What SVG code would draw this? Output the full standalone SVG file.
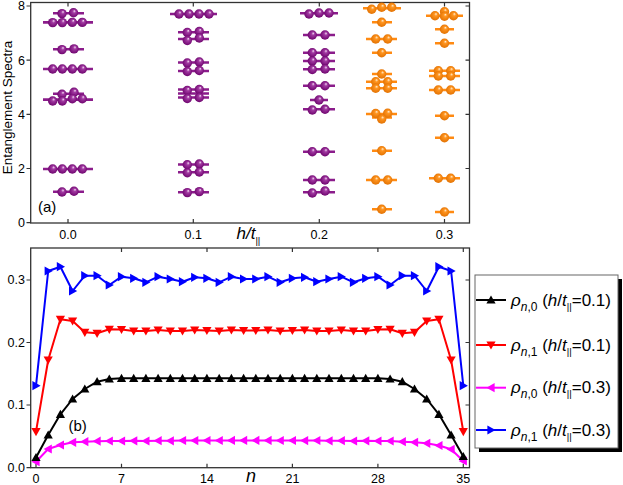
<svg xmlns="http://www.w3.org/2000/svg" xmlns:xlink="http://www.w3.org/1999/xlink" width="623" height="485" viewBox="0 0 623 485">
<style>
text{font-family:"Liberation Sans",Arial,sans-serif;fill:#000}
.tk{font-size:12.5px}
.i{font-style:italic}
.fr{fill:none;stroke:#333;stroke-width:1.3}
.tick{stroke:#333;stroke-width:1.2}
.lp{stroke:#8b1c8b;stroke-width:2.6}
.lo{stroke:#ff8a12;stroke-width:2.6}
.s{fill:none;stroke-width:2;stroke-linejoin:round}
.lg{font-size:17px}
.sb{font-size:12px}
.ss{font-size:9.5px}
</style>
<defs>
<radialGradient id="gp" cx="0.5" cy="0.5" r="0.55" fx="0.62" fy="0.3">
<stop offset="0" stop-color="#f4e0f4"/><stop offset="0.3" stop-color="#a23aa2"/><stop offset="1" stop-color="#6a006a"/>
</radialGradient>
<radialGradient id="go" cx="0.5" cy="0.5" r="0.55" fx="0.62" fy="0.3">
<stop offset="0" stop-color="#fff0d8"/><stop offset="0.3" stop-color="#ff9520"/><stop offset="1" stop-color="#e06f00"/>
</radialGradient>
<circle id="pb" r="4.7" fill="url(#gp)"/>
<circle id="ob" r="4.7" fill="url(#go)"/>
<marker id="mk" viewBox="-6 -6 12 12" markerWidth="12" markerHeight="12" markerUnits="userSpaceOnUse" orient="0" overflow="visible"><path d="M0,-4.6 L4.6,3.6 L-4.6,3.6 Z" fill="#000"/></marker>
<marker id="mr" viewBox="-6 -6 12 12" markerWidth="12" markerHeight="12" markerUnits="userSpaceOnUse" orient="0" overflow="visible"><path d="M0,4.6 L4.6,-3.6 L-4.6,-3.6 Z" fill="#f00"/></marker>
<marker id="mm" viewBox="-6 -6 12 12" markerWidth="12" markerHeight="12" markerUnits="userSpaceOnUse" orient="0" overflow="visible"><path d="M-4.6,0 L3.6,-4.6 L3.6,4.6 Z" fill="#f0f"/></marker>
<marker id="mb" viewBox="-6 -6 12 12" markerWidth="12" markerHeight="12" markerUnits="userSpaceOnUse" orient="0" overflow="visible"><path d="M4.6,0 L-3.6,-4.6 L-3.6,4.6 Z" fill="#00f"/></marker>
</defs>

<!-- Panel (a) axes -->
<g id="axes-a">
<rect class="fr" x="30.7" y="2.5" width="438.8" height="220.5"/>
<path class="tick" d="M26.5,6H30.7M26.5,60.2H30.7M26.5,114.3H30.7M26.5,168.5H30.7M26.5,222.7H30.7
M469.5,6H465.5M469.5,60.2H465.5M469.5,114.3H465.5M469.5,168.5H465.5
M68,2.5V6.5M193.3,2.5V6.5M319.3,2.5V6.5M444.5,2.5V6.5
M68,223V219M193.3,223V219M319.3,223V219M444.5,223V219"/>
<text class="tk" text-anchor="end" x="25" y="10.3">8</text>
<text class="tk" text-anchor="end" x="25" y="64.5">6</text>
<text class="tk" text-anchor="end" x="25" y="118.6">4</text>
<text class="tk" text-anchor="end" x="25" y="172.8">2</text>
<text class="tk" text-anchor="end" x="25" y="227">0</text>
<text class="tk" text-anchor="middle" x="68" y="239">0.0</text>
<text class="tk" text-anchor="middle" x="193.3" y="239">0.1</text>
<text class="tk" text-anchor="middle" x="319.3" y="239">0.2</text>
<text class="tk" text-anchor="middle" x="444.5" y="239">0.3</text>
<text x="236.5" y="238.5" font-size="17" class="i">h/t<tspan class="ss" font-style="normal" dy="5">||</tspan></text>
<text transform="translate(11.5,107.5) rotate(-90)" text-anchor="middle" font-size="13.5">Entanglement Spectra</text>
<text x="38" y="212" font-size="15">(a)</text>
</g>

<!-- h/t = 0.0 -->
<g id="col-00">
<path class="lp" d="M53,13.3H84M43,22.4H93M53,49.3H84M43,69H93M53,93.8H84M43,99.6H93M43,169H93M53,191.7H84"/>
<use href="#pb" x="62" y="13.6"/><use href="#pb" x="73.5" y="12.8"/>
<use href="#pb" x="52.7" y="22.6"/><use href="#pb" x="62.3" y="22.6"/><use href="#pb" x="72.3" y="22.4"/><use href="#pb" x="82.3" y="22.4"/>
<use href="#pb" x="62" y="49.6"/><use href="#pb" x="74" y="48.9"/>
<use href="#pb" x="52.7" y="69"/><use href="#pb" x="62.3" y="69"/><use href="#pb" x="72.3" y="69"/><use href="#pb" x="82.3" y="69"/>
<use href="#pb" x="62" y="94.3"/><use href="#pb" x="74" y="92.3"/>
<use href="#pb" x="52.7" y="101"/><use href="#pb" x="62.3" y="101"/><use href="#pb" x="72.3" y="98.7"/><use href="#pb" x="82.3" y="98.7"/>
<use href="#pb" x="52.7" y="169"/><use href="#pb" x="62.3" y="169"/><use href="#pb" x="72.3" y="169"/><use href="#pb" x="82.3" y="169"/>
<use href="#pb" x="62" y="192"/><use href="#pb" x="74" y="191.3"/>
</g>

<!-- h/t = 0.1 -->
<g id="col-01">
<path class="lp" d="M170,14H217M178,32.3H209M178,39H209M178,62.5H209M178,71H209M178,89.5H209M178,93.5H209M178,97.5H209M178,164.5H209M178,172.3H209M178,192.3H209"/>
<use href="#pb" x="179" y="14"/><use href="#pb" x="189" y="14"/><use href="#pb" x="199" y="14"/><use href="#pb" x="209" y="14"/>
<use href="#pb" x="187.3" y="32.5"/><use href="#pb" x="199.3" y="31.5"/>
<use href="#pb" x="187.3" y="40.5"/><use href="#pb" x="199.3" y="38"/>
<use href="#pb" x="187.3" y="63"/><use href="#pb" x="199.3" y="62"/>
<use href="#pb" x="187.3" y="71.5"/><use href="#pb" x="199.3" y="70.5"/>
<use href="#pb" x="187.3" y="90.5"/><use href="#pb" x="199.3" y="89.5"/>
<use href="#pb" x="187.3" y="98.5"/><use href="#pb" x="199.3" y="97.5"/>
<use href="#pb" x="187.3" y="164.8"/><use href="#pb" x="199.3" y="164"/>
<use href="#pb" x="187.3" y="172.8"/><use href="#pb" x="199.3" y="172"/>
<use href="#pb" x="187.3" y="192.6"/><use href="#pb" x="199.3" y="191.6"/>
</g>

<!-- h/t = 0.2 -->
<g id="col-02">
<path class="lp" d="M300,13.3H338M303,35H335M303,52.7H335M303,61H335M303,69.3H335M303,85.7H335M310,100H328M303,109.3H335M303,151.7H335M303,180H335M303,192.3H335"/>
<use href="#pb" x="309" y="14"/><use href="#pb" x="319" y="13"/><use href="#pb" x="329" y="13"/>
<use href="#pb" x="312.3" y="35"/><use href="#pb" x="325" y="35"/>
<use href="#pb" x="312.3" y="52.7"/><use href="#pb" x="325" y="52.7"/>
<use href="#pb" x="312.3" y="61"/><use href="#pb" x="325" y="61"/>
<use href="#pb" x="312.3" y="69.5"/><use href="#pb" x="325" y="69"/>
<use href="#pb" x="312.3" y="85.7"/><use href="#pb" x="325" y="85.7"/>
<use href="#pb" x="319" y="100"/>
<use href="#pb" x="312.3" y="110"/><use href="#pb" x="325" y="109.3"/>
<use href="#pb" x="312.3" y="151.7"/><use href="#pb" x="325" y="151.7"/>
<use href="#pb" x="312.3" y="180"/><use href="#pb" x="325" y="180"/>
<use href="#pb" x="312.3" y="193"/><use href="#pb" x="325" y="191"/>
</g>

<!-- h/t = 0.25 -->
<g id="col-025">
<path class="lo" d="M363,8.3H401M372,22.3H392M366,39H397M372,52.7H392M372,74H392M366,81.7H397M366,88.3H397M366,114H397M372,117.5H392M372,150.7H392M366,180H397M372,209.3H392"/>
<use href="#ob" x="371.7" y="9.3"/><use href="#ob" x="381.7" y="7.3"/><use href="#ob" x="391.7" y="7.3"/>
<use href="#ob" x="381.7" y="22.3"/>
<use href="#ob" x="375.7" y="39"/><use href="#ob" x="387.7" y="39"/>
<use href="#ob" x="381.7" y="52.7"/>
<use href="#ob" x="381.7" y="74"/>
<use href="#ob" x="375.7" y="81.7"/><use href="#ob" x="387.7" y="81.7"/>
<use href="#ob" x="375.7" y="88.3"/><use href="#ob" x="387.7" y="88.3"/>
<use href="#ob" x="375.7" y="113.5"/><use href="#ob" x="387.7" y="113.3"/>
<use href="#ob" x="381.7" y="119"/>
<use href="#ob" x="381.7" y="150.7"/>
<use href="#ob" x="375.7" y="180"/><use href="#ob" x="387.7" y="180"/>
<use href="#ob" x="381.7" y="209.3"/>
</g>

<!-- h/t = 0.3 -->
<g id="col-03">
<path class="lo" d="M426,15.7H463M435,29.3H454M435,43.3H454M429,70.7H460M429,76H460M429,90H460M435,115.7H454M435,137.7H454M429,178.3H460M435,212H454"/>
<use href="#ob" x="435" y="15.7"/><use href="#ob" x="444.5" y="11.7"/><use href="#ob" x="444.5" y="16.3"/><use href="#ob" x="453.5" y="15.7"/>
<use href="#ob" x="444.5" y="29.3"/>
<use href="#ob" x="444.5" y="43.3"/>
<use href="#ob" x="438.3" y="70.7"/><use href="#ob" x="450.7" y="70.7"/>
<use href="#ob" x="438.3" y="76"/><use href="#ob" x="450.7" y="76"/>
<use href="#ob" x="438.3" y="90"/><use href="#ob" x="450.7" y="90"/>
<use href="#ob" x="444.5" y="115.7"/>
<use href="#ob" x="444.5" y="137.7"/>
<use href="#ob" x="438.3" y="178.3"/><use href="#ob" x="450.7" y="178.3"/>
<use href="#ob" x="444.5" y="212"/>
</g>

<!-- Panel (b) axes -->
<g id="axes-b">
<rect class="fr" x="30.7" y="248" width="438.8" height="219.7"/>
<path class="tick" d="M26.5,467.7H30.7M26.5,405H30.7M26.5,342.5H30.7M26.5,280H30.7
M469.5,405H465.5M469.5,342.5H465.5M469.5,280H465.5
M121.5,248V252M207,248V252M292.4,248V252M377.9,248V252M463.3,248V252
M36,467.7V463.7M121.5,467.7V463.7M207,467.7V463.7M292.4,467.7V463.7M377.9,467.7V463.7M463.3,467.7V463.7"/>
<text class="tk" text-anchor="end" x="25" y="472">0.0</text>
<text class="tk" text-anchor="end" x="25" y="409.3">0.1</text>
<text class="tk" text-anchor="end" x="25" y="346.8">0.2</text>
<text class="tk" text-anchor="end" x="25" y="284.3">0.3</text>
<text class="tk" text-anchor="middle" x="36" y="483">0</text>
<text class="tk" text-anchor="middle" x="121.5" y="483">7</text>
<text class="tk" text-anchor="middle" x="207" y="483">14</text>
<text class="tk" text-anchor="middle" x="292.4" y="483">21</text>
<text class="tk" text-anchor="middle" x="377.9" y="483">28</text>
<text class="tk" text-anchor="middle" x="463.3" y="483">35</text>
<text x="251" y="482" font-size="18" class="i" text-anchor="middle">n</text>
<text x="68.5" y="430.5" font-size="15">(b)</text>
</g>

<!-- series -->
<g id="connectors">
<polyline class="s" stroke="#f0f" marker-start="url(#mm)" marker-mid="url(#mm)" marker-end="url(#mm)" points="36,461.7 48.2,449 60.4,445 72.6,442.3 84.8,441.7 97.1,441.2 109.3,441 121.5,441 133.7,440.8 145.9,441 158.1,440.7 170.3,440.8 182.5,440.5 194.7,440.6 206.9,440.5 219.2,440.5 231.4,440.4 243.6,440.4 255.8,440.4 268,440.4 280.2,440.5 292.4,440.5 304.6,440.6 316.8,440.5 329,440.8 341.3,440.7 353.5,441 365.7,440.8 377.9,441 390.1,441 402.3,441.7 414.5,442.3 426.7,443.3 438.9,445.5 451.1,449.3 463.3,461"/>
<polyline class="s" stroke="#000" marker-start="url(#mk)" marker-mid="url(#mk)" marker-end="url(#mk)" points="36,457.5 48.2,435 60.4,414.3 72.6,399 84.8,389 97.1,381.7 109.3,379 121.5,378.3 133.7,378.3 145.9,378.3 158.1,378.3 170.3,378.3 182.5,378.3 194.7,378.3 206.9,378.3 219.2,378.3 231.4,378.3 243.6,378.3 255.8,378.3 268,378.3 280.2,378.3 292.4,378.3 304.6,378.3 316.8,378.3 329,378.3 341.3,378.3 353.5,378.3 365.7,378.3 377.9,378.3 390.1,379 402.3,381.7 414.5,389 426.7,399 438.9,414.3 451.1,435 463.3,456.5"/>
<polyline class="s" stroke="#f00" marker-start="url(#mr)" marker-mid="url(#mr)" marker-end="url(#mr)" points="36,431.7 48.2,360 60.4,319.3 72.6,321 84.8,332.3 97.1,333.3 109.3,329.3 121.5,329.5 133.7,331 145.9,331 158.1,330 170.3,331 182.5,331 194.7,330 206.9,330.5 219.2,331 231.4,330 243.6,330.5 255.8,330.5 268,330 280.2,331 292.4,330.5 304.6,330 316.8,331 329,331 341.3,330 353.5,331 365.7,331 377.9,329.5 390.1,329.3 402.3,333.3 414.5,332.3 426.7,321 438.9,319.3 451.1,360 463.3,431.7"/>
<polyline class="s" stroke="#00f" marker-start="url(#mb)" marker-mid="url(#mb)" marker-end="url(#mb)" points="36,385.7 48.2,271 60.4,266.7 72.6,291 84.8,275.7 97.1,275.7 109.3,285 121.5,276.7 133.7,278.3 145.9,282.3 158.1,276.7 170.3,279 182.5,281.7 194.7,277.3 206.9,278.3 219.2,282.3 231.4,276.7 243.6,279 255.8,279 268,276.7 280.2,282.3 292.4,278.3 304.6,277.3 316.8,281.7 329,279 341.3,276.7 353.5,282.3 365.7,278.3 377.9,276.7 390.1,285 402.3,275.7 414.5,275.7 426.7,291 438.9,266.7 451.1,271 463.3,385.7"/>
</g>

<!-- legend -->
<g id="legend">
<rect x="479" y="279" width="143" height="173" fill="#000"/>
<rect x="475" y="275" width="143" height="173" fill="#fff" stroke="#666" stroke-width="1"/>
<polyline points="476,300 491,300 506,300" fill="none" stroke="#000" stroke-width="2" marker-mid="url(#mk)"/>
<polyline points="476,345 491,345 506,345" fill="none" stroke="#f00" stroke-width="2" marker-mid="url(#mr)"/>
<polyline points="476,387.7 491,387.7 506,387.7" fill="none" stroke="#f0f" stroke-width="2" marker-mid="url(#mm)"/>
<polyline points="476,430 491,430 506,430" fill="none" stroke="#00f" stroke-width="2" marker-mid="url(#mb)"/>
<text class="lg" x="511" y="305.5"><tspan class="i">ρ</tspan><tspan class="sb" dy="5"><tspan class="i">n</tspan>,0</tspan><tspan dy="-5"> (</tspan><tspan class="i">h</tspan>/<tspan class="i">t</tspan><tspan class="ss" dy="4">||</tspan><tspan dy="-4">=0.1)</tspan></text>
<text class="lg" x="511" y="350.5"><tspan class="i">ρ</tspan><tspan class="sb" dy="5"><tspan class="i">n</tspan>,1</tspan><tspan dy="-5"> (</tspan><tspan class="i">h</tspan>/<tspan class="i">t</tspan><tspan class="ss" dy="4">||</tspan><tspan dy="-4">=0.1)</tspan></text>
<text class="lg" x="511" y="393.2"><tspan class="i">ρ</tspan><tspan class="sb" dy="5"><tspan class="i">n</tspan>,0</tspan><tspan dy="-5"> (</tspan><tspan class="i">h</tspan>/<tspan class="i">t</tspan><tspan class="ss" dy="4">||</tspan><tspan dy="-4">=0.3)</tspan></text>
<text class="lg" x="511" y="435.5"><tspan class="i">ρ</tspan><tspan class="sb" dy="5"><tspan class="i">n</tspan>,1</tspan><tspan dy="-5"> (</tspan><tspan class="i">h</tspan>/<tspan class="i">t</tspan><tspan class="ss" dy="4">||</tspan><tspan dy="-4">=0.3)</tspan></text>
</g>
</svg>
